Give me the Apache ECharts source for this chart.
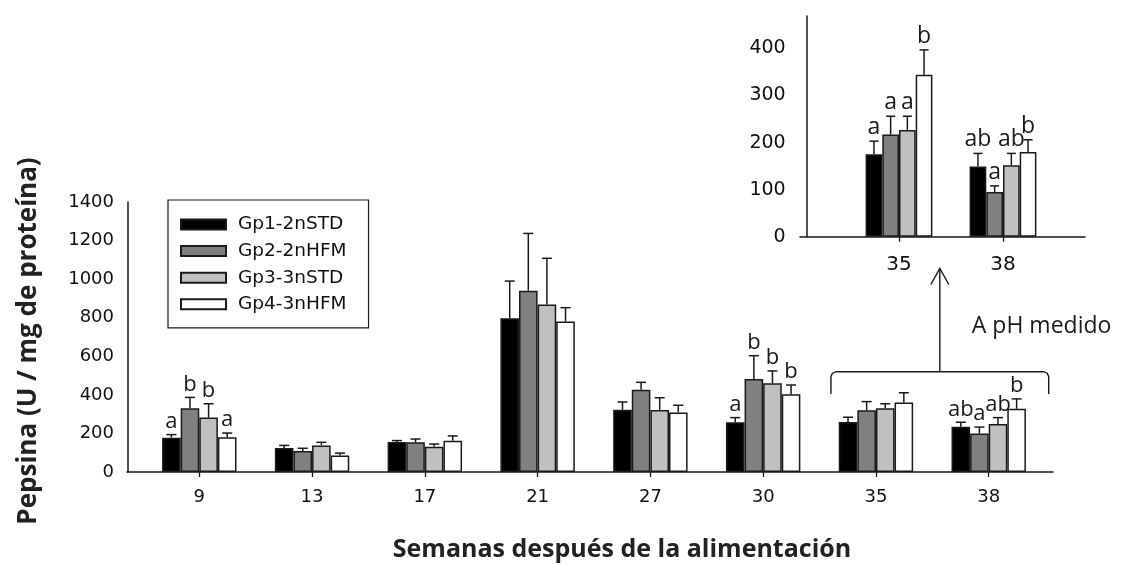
<!DOCTYPE html>
<html>
<head>
<meta charset="utf-8">
<script src="https://cdn.jsdelivr.net/npm/echarts@6/dist/echarts.min.js"></script>
<style>
  html, body { margin: 0; padding: 0; background: #ffffff; }
  #chart { width: 1121px; height: 564px; }
</style>
</head>
<body>
<div id="chart"></div>
<script>
// ---- data -------------------------------------------------------------
const groupNames = ['Gp1-2nSTD', 'Gp2-2nHFM', 'Gp3-3nSTD', 'Gp4-3nHFM'];

// Main panel: weeks after feeding
const weeks = ['9', '13', '17', '21', '27', '30', '35', '38'];
const gp1Mean = [178, 124, 156, 797, 323, 258, 259, 235];
const gp1Err  = [16, 14, 7, 193, 40, 24, 25, 23];
const gp2Mean = [330, 109, 154, 940, 427, 482, 320, 200];
const gp2Err  = [57, 14, 17, 297, 38, 121, 45, 33];
const gp3Mean = [282, 138, 131, 868, 321, 460, 330, 249];
const gp3Err  = [72, 16, 14, 240, 64, 64, 24, 33];
const gp4Mean = [180, 85, 162, 780, 308, 403, 361, 328];
const gp4Err  = [22, 13, 25, 72, 38, 48, 50, 51];
const gp1Letters = ['a', '', '', '', '', 'a', '', 'ab'];
const gp2Letters = ['b', '', '', '', '', 'b', '', 'a'];
const gp3Letters = ['b', '', '', '', '', 'b', '', 'ab'];
const gp4Letters = ['a', '', '', '', '', 'b', '', 'b'];
const mainTicks = [0, 200, 400, 600, 800, 1000, 1200, 1400];

// Inset panel: measured pH
const insetWeeks = ['35', '38'];
const inGp1Mean = [175, 149];
const inGp1Err  = [28, 28];
const inGp2Mean = [217, 95];
const inGp2Err  = [39, 13];
const inGp3Mean = [227, 152];
const inGp3Err  = [29, 25];
const inGp4Mean = [344, 180];
const inGp4Err  = [53, 26];
const inGp1Letters = ['a', 'ab'];
const inGp2Letters = ['a', 'a'];
const inGp3Letters = ['a', 'ab'];
const inGp4Letters = ['b', 'b'];
const insetTicks = [0, 100, 200, 300, 400];

const annotationText = 'A pH medido';
const xTitle = 'Semanas después de la alimentación';
const yTitle = 'Pepsina (U / mg de proteína)';

// ---- styling ------------------------------------------------------------
const fills = ['#000000', '#808080', '#c0c0c0', '#ffffff'];
const ink = '#1a1a1a';
const tickFont = 'DejaVu Sans';
const letterFont = 'Open Sans';
const MAIN_BAR_W = 18.6;
const INSET_BAR_W = 16.7;

const mainMeans = [gp1Mean, gp2Mean, gp3Mean, gp4Mean];
const mainErrs = [gp1Err, gp2Err, gp3Err, gp4Err];
const mainLetters = [gp1Letters, gp2Letters, gp3Letters, gp4Letters];
const inMeans = [inGp1Mean, inGp2Mean, inGp3Mean, inGp4Mean];
const inErrs = [inGp1Err, inGp2Err, inGp3Err, inGp4Err];
const inLetters = [inGp1Letters, inGp2Letters, inGp3Letters, inGp4Letters];

// Upward error bar with cap, plus the significance letter above it
function errorBar(letters, g, barW, capHalf, fontSize) {
  return function (params, api) {
    const i = params.dataIndex;
    const base = api.coord([api.value(0), api.value(1)]);
    const top = api.coord([api.value(0), api.value(1) + api.value(2)]);
    const x = base[0] + (g - 1.5) * barW;
    const stroke = { stroke: ink, lineWidth: 1.5 };
    const children = [
      { type: 'line', shape: { x1: x, y1: base[1], x2: x, y2: top[1] }, style: stroke },
      { type: 'line', shape: { x1: x - capHalf, y1: top[1], x2: x + capHalf, y2: top[1] }, style: stroke }
    ];
    if (letters[i]) {
      children.push({
        type: 'text', x: x, y: top[1] - 2,
        style: {
          text: letters[i], align: 'center', verticalAlign: 'bottom',
          font: fontSize + 'px "' + letterFont + '"', fill: ink
        }
      });
    }
    return { type: 'group', children: children };
  };
}

const series = [];
groupNames.forEach(function (name, g) {
  series.push({
    name: name, type: 'bar', xAxisIndex: 1, yAxisIndex: 1,
    barWidth: MAIN_BAR_W, barGap: '0%',
    itemStyle: { color: fills[g], borderColor: ink, borderWidth: 1.5 },
    data: mainMeans[g], z: 2, silent: true
  });
});
groupNames.forEach(function (name, g) {
  series.push({
    name: name, type: 'bar', xAxisIndex: 3, yAxisIndex: 3,
    barWidth: INSET_BAR_W, barGap: '0%',
    itemStyle: { color: fills[g], borderColor: ink, borderWidth: 1.5 },
    data: inMeans[g], z: 2, silent: true
  });
});
groupNames.forEach(function (name, g) {
  series.push({
    type: 'custom', xAxisIndex: 1, yAxisIndex: 1, z: 3, silent: true,
    renderItem: errorBar(mainLetters[g], g, MAIN_BAR_W, 5, 22),
    data: weeks.map(function (w, i) { return [i, mainMeans[g][i], mainErrs[g][i]]; })
  });
  series.push({
    type: 'custom', xAxisIndex: 3, yAxisIndex: 3, z: 3, silent: true,
    renderItem: errorBar(inLetters[g], g, INSET_BAR_W, 4.5, 23),
    data: insetWeeks.map(function (w, i) { return [i, inMeans[g][i], inErrs[g][i]]; })
  });
});

const axisLine = { show: true, lineStyle: { color: ink, width: 1.5 } };
const frameX = {
  type: 'value', min: 0, max: 1, axisLine: axisLine,
  axisTick: { show: false }, axisLabel: { show: false }, splitLine: { show: false }
};
const hiddenY = function (max) {
  return { type: 'value', min: 0, max: max, show: false, splitLine: { show: false } };
};

const option = {
  animation: false,
  backgroundColor: '#ffffff',
  grid: [
    { left: 127, top: 202, width: 926, height: 270 },      // main frame
    { left: 142.9, top: 202, width: 902.2, height: 270 },  // main categories
    { left: 800, top: 16, width: 285, height: 220.7 },     // inset frame
    { left: 847, top: 16, width: 208, height: 220.7 }      // inset categories
  ],
  xAxis: [
    Object.assign({ gridIndex: 0 }, frameX),
    {
      gridIndex: 1, type: 'category', data: weeks,
      axisLine: { show: false },
      axisTick: { show: true, alignWithLabel: true, length: 5, lineStyle: { color: ink, width: 1.3 } },
      axisLabel: { margin: 16, color: '#111', fontFamily: tickFont, fontSize: 18 }
    },
    Object.assign({ gridIndex: 2 }, frameX),
    {
      gridIndex: 3, type: 'category', data: insetWeeks,
      axisLine: { show: false },
      axisTick: { show: true, alignWithLabel: true, length: 5, lineStyle: { color: ink, width: 1.3 } },
      axisLabel: { margin: 18, color: '#111', fontFamily: tickFont, fontSize: 20 }
    }
  ],
  yAxis: [
    {
      gridIndex: 0, type: 'value', min: mainTicks[0], max: mainTicks[mainTicks.length - 1], interval: 200,
      offset: -1, axisLine: axisLine, axisTick: { show: false }, splitLine: { show: false },
      axisLabel: {
        margin: 14, color: '#111', fontFamily: tickFont, fontSize: 18,
        formatter: function (v) { return String(v); }
      }
    },
    Object.assign({ gridIndex: 1 }, hiddenY(1400)),
    {
      gridIndex: 2, type: 'value', min: 0, max: 469, interval: 100,
      offset: -6.7, axisLine: axisLine, axisTick: { show: false }, splitLine: { show: false },
      axisLabel: {
        margin: 21, color: '#111', fontFamily: tickFont, fontSize: 19,
        formatter: function (v) { return insetTicks.indexOf(v) >= 0 ? String(v) : ''; }
      }
    },
    Object.assign({ gridIndex: 3 }, hiddenY(469))
  ],
  legend: {
    data: groupNames, orient: 'vertical', left: 168, top: 200,
    icon: 'rect', itemWidth: 45, itemHeight: 10, itemGap: 7.6,
    padding: [15, 22, 14, 12],
    borderColor: ink, borderWidth: 1.2,
    selectedMode: false,
    textStyle: { fontFamily: tickFont, fontSize: 18.5, color: '#111', lineHeight: 18, padding: [0, 0, 0, 7] }
  },
  series: series
};

const chart = echarts.init(document.getElementById('chart'), null, { renderer: 'canvas' });
chart.setOption(option);

// Bracket over the last two weeks, arrow up to the inset, and axis titles
const x35 = chart.convertToPixel({ xAxisIndex: 1 }, 6);
const x38 = chart.convertToPixel({ xAxisIndex: 1 }, 7);
const yBrace = chart.convertToPixel({ yAxisIndex: 1 }, 520);
const yBraceEnd = chart.convertToPixel({ yAxisIndex: 1 }, 405);
const bl = x35 - 45, br = x38 + 60, bm = (bl + br) / 2;
const arrowTip = 268.5;
const lineStyle = { stroke: ink, lineWidth: 1.4, fill: null };

chart.setOption({
  graphic: [
    {
      type: 'polyline', silent: true,
      shape: {
        points: [
          [bl, yBraceEnd], [bl, yBrace + 5], [bl + 1.5, yBrace + 1.5], [bl + 5, yBrace],
          [br - 5, yBrace], [br - 1.5, yBrace + 1.5], [br, yBrace + 5], [br, yBraceEnd]
        ]
      },
      style: lineStyle
    },
    { type: 'line', silent: true, shape: { x1: bm, y1: yBrace, x2: bm, y2: arrowTip }, style: lineStyle },
    {
      type: 'polyline', silent: true,
      shape: { points: [[bm - 9, arrowTip + 16], [bm, arrowTip], [bm + 9, arrowTip + 16]] },
      style: lineStyle
    },
    {
      type: 'text', silent: true, x: bm + 32, y: 326,
      style: { text: annotationText, font: '23px "Open Sans"', fill: ink, verticalAlign: 'middle' }
    },
    {
      type: 'text', silent: true, x: 622, y: 550,
      style: { text: xTitle, font: 'bold 25px "Open Sans"', fill: '#222', align: 'center', verticalAlign: 'middle' }
    },
    {
      type: 'text', silent: true, x: 29, y: 341, rotation: Math.PI / 2,
      style: { text: yTitle, font: 'bold 26px "Open Sans"', fill: '#222', align: 'center', verticalAlign: 'middle' }
    }
  ]
});
</script>
</body>
</html>
